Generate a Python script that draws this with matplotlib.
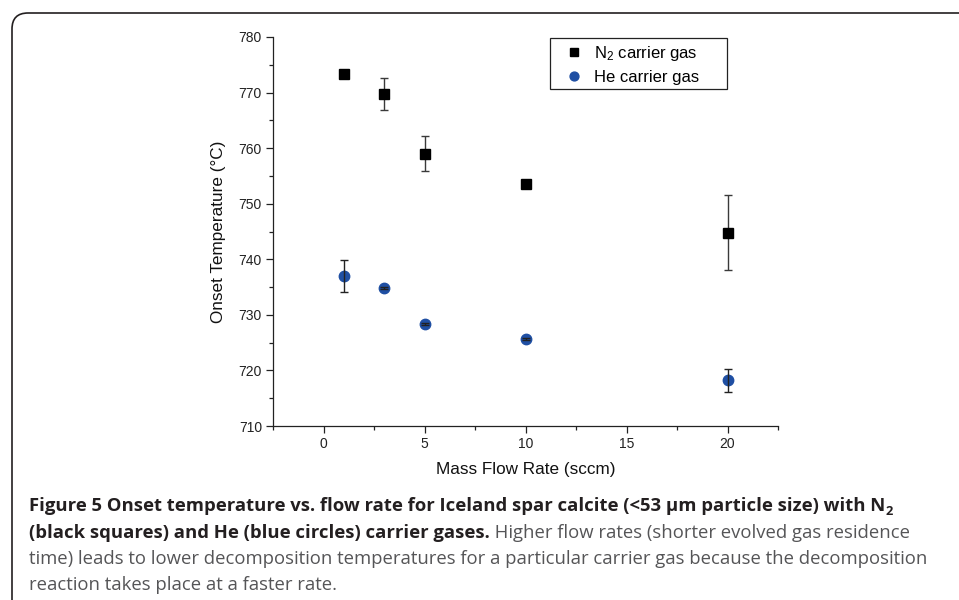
import matplotlib
matplotlib.use("Agg")
import matplotlib.pyplot as plt
from matplotlib import font_manager
from matplotlib.patches import FancyBboxPatch, Rectangle
from matplotlib.ticker import MultipleLocator

# ---- data ----
flow_rates = [1, 3, 5, 10, 20]
n2_onset = [773.3, 769.7, 759.0, 753.6, 744.8]
n2_err = [0.0, 2.9, 3.15, 0.0, 6.7]
he_onset = [737.0, 734.8, 728.4, 725.7, 718.2]
he_err = [2.9, 0.2, 0.2, 0.2, 2.1]
x_ticks = [0, 5, 10, 15, 20]
y_ticks = [710, 720, 730, 740, 750, 760, 770, 780]

def pick_font(cands):
    for c in cands:
        try:
            font_manager.findfont(font_manager.FontProperties(family=c), fallback_to_default=False)
            return c
        except Exception:
            continue
    return "DejaVu Sans"

main_font = pick_font(["Liberation Sans", "Arial", "DejaVu Sans"])
cap_font = pick_font(["Liberation Sans Narrow", "Open Sans", "Lato", "DejaVu Sans"])

plt.rcParams["font.family"] = [main_font, "DejaVu Sans"]
plt.rcParams["mathtext.fontset"] = "custom"
plt.rcParams["mathtext.rm"] = main_font
plt.rcParams["mathtext.it"] = main_font

W, H = 959, 600
fig = plt.figure(figsize=(W / 100, H / 100), dpi=100)

# figure frame with rounded top-left corner
frame = FancyBboxPatch((0.12, -0.5), 11.0, 6.0 - 0.13 + 0.5,
                       boxstyle="round,pad=0,rounding_size=0.16",
                       transform=fig.dpi_scale_trans, fill=False,
                       edgecolor="#231f20", linewidth=1.2, clip_on=False)
fig.patches.append(frame)

ax_l, ax_r, ax_t, ax_b = 273, 778, 37, 426
ax = fig.add_axes([ax_l / W, 1 - ax_b / H, (ax_r - ax_l) / W, (ax_b - ax_t) / H])
ax.set_xlim(-2.5, 22.5)
ax.set_ylim(710, 780)
ax.set_xticks(x_ticks)
ax.set_yticks(y_ticks)
ax.xaxis.set_minor_locator(MultipleLocator(2.5))
ax.yaxis.set_minor_locator(MultipleLocator(5))
for s in ["top", "right"]:
    ax.spines[s].set_visible(False)
for s in ["left", "bottom"]:
    ax.spines[s].set_linewidth(0.9)
    ax.spines[s].set_color("#222222")
ax.tick_params(which="major", direction="out", length=5, width=0.9, labelsize=10,
               colors="#222222", pad=3)
ax.tick_params(which="minor", direction="out", length=3, width=0.9, colors="#222222")

ax.set_xlabel("Mass Flow Rate (sccm)", fontsize=12.3, labelpad=8, color="#111111")
ax.set_ylabel("Onset Temperature (°C)", fontsize=12.3, labelpad=9, color="#111111")

ax.errorbar(flow_rates, n2_onset, yerr=n2_err, fmt="none", ecolor="#3a3a3a",
            elinewidth=1.0, capsize=3.0, capthick=1.0, zorder=2)
ax.errorbar(flow_rates, he_onset, yerr=he_err, fmt="none", ecolor="#222222",
            elinewidth=1.0, capsize=3.0, capthick=1.0, zorder=4)
ax.plot(flow_rates, n2_onset, linestyle="none", marker="s", markersize=7,
        color="black", label="N$_2$ carrier gas", zorder=3)
ax.plot(flow_rates, he_onset, linestyle="none", marker="o", markersize=7.5,
        color="#1f4fa3", label="He carrier gas", zorder=3)

# legend (frame drawn separately to reproduce the wide right padding)
leg_l, leg_r, leg_t, leg_b = 550, 727, 38, 89
leg = ax.legend(loc="upper left",
                bbox_to_anchor=((leg_l - ax_l) / (ax_r - ax_l), (ax_b - leg_t) / (ax_b - ax_t)),
                fontsize=12, frameon=False, markerscale=0.85,
                handlelength=2.2, handletextpad=0.1, borderpad=0.35, labelspacing=0.45,
                borderaxespad=0)
ax.add_patch(Rectangle(((leg_l - ax_l) / (ax_r - ax_l), (ax_b - leg_b) / (ax_b - ax_t)),
                       (leg_r - leg_l) / (ax_r - ax_l), (leg_b - leg_t) / (ax_b - ax_t),
                       transform=ax.transAxes, fill=False, edgecolor="#222222",
                       linewidth=0.9, clip_on=False, zorder=5))

# ---- caption ----
fig.canvas.draw()
renderer = fig.canvas.get_renderer()
bold_col = "#231f20"
reg_col = "#555557"
cap_size = 13.3
x0 = 29
baselines = [511, 537.5, 563.5, 590]

def put(x, ybase, s, weight="normal", color=reg_col, size=cap_size):
    t = fig.text(x / W, 1 - ybase / H, s, fontsize=size, fontweight=weight, color=color,
                 family=[cap_font, "DejaVu Sans"], va="baseline", ha="left")
    bb = t.get_window_extent(renderer)
    return bb.x1

x = put(x0, baselines[0], "Figure 5 Onset temperature vs. flow rate for Iceland spar calcite (<53 µm particle size) with N",
        weight="bold", color=bold_col)
put(x + 0.5, baselines[0] + 4, "2", weight="bold", color=bold_col, size=cap_size * 0.7)
x = put(x0, baselines[1], "(black squares) and He (blue circles) carrier gases.", weight="bold", color=bold_col)
put(x, baselines[1], " Higher flow rates (shorter evolved gas residence")
put(x0, baselines[2], "time) leads to lower decomposition temperatures for a particular carrier gas because the decomposition")
put(x0, baselines[3], "reaction takes place at a faster rate.")

fig.savefig("out.png", dpi=100)
